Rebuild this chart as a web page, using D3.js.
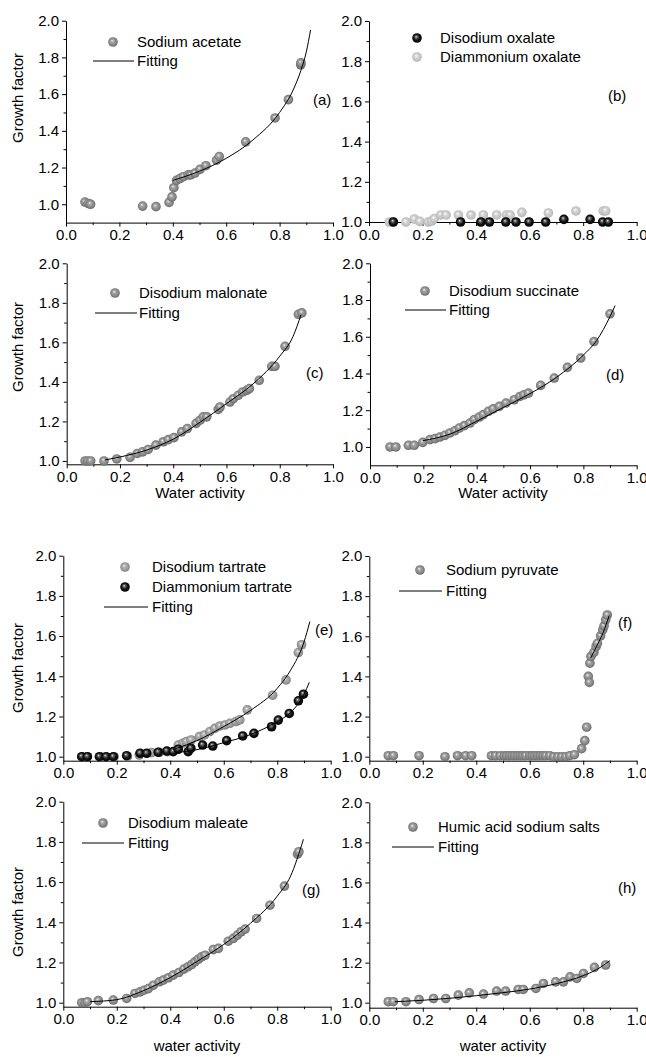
<!DOCTYPE html>
<html><head><meta charset="utf-8">
<script src="https://cdn.jsdelivr.net/npm/d3@7"></script>
<style>
body{margin:0;background:#fff}
svg text{font-family:"Liberation Sans",Arial,Helvetica,sans-serif;fill:#000}
</style>
</head><body>
<svg id="chart" width="646" height="1057"></svg>
<script>
// ---------- DATA ----------
const xTicks = [0.0, 0.2, 0.4, 0.6, 0.8, 1.0];
const xMinorTicks = [0.1, 0.3, 0.5, 0.7, 0.9];
const yTicks = [1.0, 1.2, 1.4, 1.6, 1.8, 2.0];
const yMinorTicks = [1.1, 1.3, 1.5, 1.7, 1.9];

// (a) Sodium acetate
const acetateAw = [0.071,0.084,0.092,0.287,0.337,0.386,0.397,0.404,0.414,0.427,0.44,0.458,0.467,0.483,0.502,0.524,0.564,0.574,0.673,0.783,0.833,0.879,0.88];
const acetateGf = [1.012,1.004,1.0,0.99,0.987,1.01,1.04,1.09,1.13,1.14,1.15,1.16,1.16,1.17,1.19,1.21,1.24,1.26,1.34,1.47,1.57,1.76,1.77];
const acetateFitAw = [0.40,0.5,0.6,0.7,0.8,0.85,0.88,0.9,0.916];
const acetateFitGf = [1.13,1.18,1.25,1.35,1.50,1.62,1.73,1.83,1.95];

// (b) Oxalates
const diammOxalateAw = [0.076,0.088,0.138,0.169,0.19,0.222,0.234,0.244,0.269,0.288,0.334,0.381,0.427,0.477,0.514,0.527,0.571,0.67,0.773,0.875,0.884];
const diammOxalateGf = [1.0,1.0,1.0,1.015,1.003,1.0,1.005,1.017,1.035,1.035,1.035,1.035,1.035,1.035,1.035,1.035,1.048,1.045,1.055,1.055,1.055];
const disodOxalateAw = [0.091,0.342,0.418,0.45,0.511,0.549,0.598,0.66,0.728,0.826,0.873,0.894];
const disodOxalateGf = [1.0,1.0,1.0,1.0,1.0,1.0,1.0,1.0,1.013,1.013,1.0,1.0];

// (c) Disodium malonate
const malonateAw = [0.069,0.079,0.09,0.14,0.188,0.238,0.265,0.285,0.306,0.335,0.363,0.382,0.403,0.432,0.453,0.486,0.501,0.513,0.526,0.569,0.576,0.613,0.626,0.644,0.661,0.676,0.686,0.723,0.77,0.782,0.82,0.87,0.883];
const malonateGf = [1.0,1.0,1.0,1.0,1.01,1.018,1.038,1.046,1.058,1.08,1.097,1.108,1.118,1.147,1.164,1.19,1.206,1.223,1.223,1.261,1.273,1.298,1.315,1.332,1.349,1.357,1.366,1.408,1.479,1.479,1.58,1.742,1.749];
const malonateFitAw = [0.144,0.2,0.3,0.4,0.5,0.6,0.7,0.8,0.85,0.88];
const malonateFitGf = [1.005,1.02,1.055,1.11,1.195,1.29,1.39,1.53,1.63,1.74];

// (d) Disodium succinate
const succinateAw = [0.075,0.097,0.144,0.166,0.198,0.225,0.244,0.262,0.281,0.3,0.319,0.335,0.354,0.375,0.391,0.41,0.425,0.444,0.462,0.485,0.51,0.541,0.562,0.577,0.594,0.64,0.691,0.74,0.79,0.84,0.9];
const succinateGf = [1.0,1.0,1.009,1.009,1.025,1.04,1.045,1.054,1.063,1.076,1.089,1.103,1.116,1.13,1.149,1.163,1.176,1.194,1.207,1.221,1.239,1.257,1.275,1.284,1.293,1.335,1.375,1.433,1.484,1.574,1.725];
const succinateFitAw = [0.198,0.3,0.4,0.5,0.6,0.7,0.8,0.85,0.9,0.919];
const succinateFitGf = [1.034,1.07,1.14,1.215,1.29,1.38,1.5,1.58,1.71,1.77];

// (e) Tartrates
const disodTartrateAw = [0.07,0.09,0.14,0.19,0.24,0.284,0.33,0.36,0.39,0.43,0.447,0.46,0.478,0.509,0.528,0.548,0.567,0.586,0.605,0.623,0.646,0.66,0.688,0.783,0.833,0.879,0.891];
const disodTartrateGf = [1.0,1.0,1.0,1.0,1.0,1.008,1.02,1.022,1.025,1.058,1.067,1.075,1.083,1.1,1.108,1.125,1.141,1.153,1.158,1.166,1.175,1.183,1.233,1.306,1.382,1.518,1.557];
const diammTartrateAw = [0.069,0.09,0.135,0.16,0.187,0.237,0.287,0.312,0.355,0.387,0.411,0.43,0.467,0.477,0.521,0.559,0.611,0.671,0.713,0.779,0.804,0.845,0.879,0.898];
const diammTartrateGf = [1.0,1.0,1.0,1.0,1.0,1.005,1.017,1.017,1.022,1.028,1.025,1.037,1.025,1.042,1.058,1.053,1.08,1.103,1.116,1.149,1.182,1.215,1.278,1.311];
const disodTartrateFitAw = [0.42,0.5,0.6,0.7,0.8,0.85,0.9,0.922];
const disodTartrateFitGf = [1.04,1.08,1.15,1.23,1.34,1.43,1.57,1.672];
const diammTartrateFitAw = [0.42,0.5,0.6,0.7,0.8,0.85,0.9,0.92];
const diammTartrateFitGf = [1.02,1.035,1.07,1.11,1.175,1.22,1.31,1.37];

// (f) Sodium pyruvate
const pyruvateAw = [0.071,0.09,0.186,0.283,0.33,0.36,0.383,0.457,0.472,0.49,0.505,0.515,0.525,0.535,0.545,0.555,0.565,0.575,0.585,0.6,0.61,0.62,0.63,0.64,0.65,0.66,0.675,0.69,0.705,0.72,0.735,0.75,0.767,0.794,0.806,0.813,0.819,0.823,0.825,0.829,0.84,0.848,0.853,0.865,0.873,0.878,0.884,0.89];
const pyruvateGf = [1.005,1.005,1.005,1.0,1.005,1.005,1.005,1.005,1.005,1.005,1.005,1.005,1.005,1.005,1.005,1.005,1.005,1.005,1.005,1.005,1.005,1.005,1.005,1.005,1.005,1.005,1.005,1.0,1.0,1.0,1.0,1.005,1.01,1.04,1.08,1.147,1.4,1.37,1.466,1.5,1.52,1.548,1.565,1.602,1.632,1.652,1.682,1.706];
const pyruvateFitAw = [0.828,0.85,0.875,0.897];
const pyruvateFitGf = [1.492,1.55,1.62,1.703];

// (g) Disodium maleate
const maleateAw = [0.069,0.081,0.09,0.131,0.187,0.237,0.268,0.287,0.302,0.318,0.337,0.359,0.374,0.393,0.411,0.432,0.451,0.467,0.48,0.492,0.505,0.517,0.53,0.561,0.58,0.617,0.636,0.651,0.665,0.68,0.723,0.773,0.827,0.876,0.881];
const maleateGf = [1.0,1.0,1.005,1.01,1.013,1.021,1.046,1.054,1.062,1.07,1.087,1.104,1.112,1.124,1.137,1.15,1.167,1.179,1.19,1.203,1.216,1.228,1.236,1.264,1.27,1.306,1.32,1.336,1.353,1.366,1.419,1.485,1.58,1.739,1.751];
const maleateFitAw = [0.1,0.2,0.3,0.4,0.5,0.6,0.7,0.8,0.85,0.898];
const maleateFitGf = [1.005,1.015,1.06,1.125,1.205,1.29,1.395,1.53,1.63,1.813];

// (h) Humic acid sodium salts
const humicAw = [0.071,0.09,0.137,0.186,0.24,0.286,0.333,0.374,0.427,0.476,0.51,0.557,0.576,0.623,0.651,0.697,0.726,0.751,0.776,0.801,0.842,0.884];
const humicGf = [1.005,1.005,1.005,1.016,1.021,1.021,1.038,1.049,1.043,1.058,1.058,1.066,1.066,1.071,1.096,1.104,1.104,1.129,1.121,1.146,1.176,1.188];
const humicFitAw = [0.096,0.2,0.3,0.4,0.5,0.6,0.7,0.8,0.85,0.9];
const humicFitGf = [1.005,1.012,1.022,1.035,1.05,1.068,1.095,1.135,1.165,1.21];

// ---------- DRAWING ----------
const svg = d3.select("#chart");
const defs = svg.append("defs");
function sphere(id, stops){
  const g = defs.append("radialGradient").attr("id", id)
    .attr("cx","50%").attr("cy","50%").attr("r","55%").attr("fx","40%").attr("fy","35%");
  stops.forEach(s => g.append("stop").attr("offset", s[0]).attr("stop-color", s[1]));
}
sphere("gGray", [["0%","#f2f2f2"],["30%","#a4a4a4"],["70%","#858585"],["100%","#5e5e5e"]]);
sphere("gLight", [["0%","#ffffff"],["35%","#d4d4d4"],["75%","#c2c2c2"],["100%","#a6a6a6"]]);
sphere("gMid", [["0%","#f5f5f5"],["30%","#b0b0b0"],["70%","#989898"],["100%","#707070"]]);
sphere("gBlack", [["0%","#e6e6e6"],["22%","#6a6a6a"],["55%","#141414"],["100%","#000000"]]);

const zip = (xs, ys) => xs.map((x, i) => ({x, y: ys[i]}));
const R = 4.8;

function panel(cfg){
  const x = d3.scaleLinear().domain([0, 1]).range([cfg.left, cfg.right]);
  const y = d3.scaleLinear().domain([cfg.ymin, 2.0]).range([cfg.bottom, cfg.top]);
  const g = svg.append("g");
  const fmt = d3.format(".1f");

  // axes
  const xa = g.append("g").attr("transform", `translate(0,${cfg.bottom})`)
    .call(d3.axisBottom(x).tickValues(xTicks).tickFormat(fmt).tickSize(4).tickSizeOuter(0).tickPadding(3));
  g.append("g").attr("transform", `translate(0,${cfg.bottom})`)
    .call(d3.axisBottom(x).tickValues(xMinorTicks).tickFormat("").tickSize(2.5).tickSizeOuter(0))
    .select(".domain").remove();
  const ya = g.append("g").attr("transform", `translate(${cfg.left},0)`)
    .call(d3.axisLeft(y).tickValues(yTicks).tickFormat(fmt).tickSize(4).tickSizeOuter(0).tickPadding(3));
  g.append("g").attr("transform", `translate(${cfg.left},0)`)
    .call(d3.axisLeft(y).tickValues(yMinorTicks).tickFormat("").tickSize(2.5).tickSizeOuter(0))
    .select(".domain").remove();
  g.selectAll(".tick text").attr("font-size", 15).attr("font-family", '"Liberation Sans",Arial,sans-serif');
  g.selectAll(".domain, .tick line").attr("stroke", "#000").attr("stroke-width", 1);

  // series
  cfg.series.forEach(s => {
    g.append("g").selectAll("circle").data(zip(s.xs, s.ys)).join("circle")
      .attr("cx", d => x(d.x)).attr("cy", d => y(d.y)).attr("r", R)
      .attr("fill", `url(#${s.grad})`);
  });
  // fits
  const line = d3.line().x(d => x(d.x)).y(d => y(d.y)).curve(d3.curveMonotoneX);
  (cfg.fits || []).forEach(f => {
    g.append("path").datum(zip(f.xs, f.ys)).attr("d", line)
      .attr("fill", "none").attr("stroke", "#000").attr("stroke-width", 1);
  });

  // legend
  cfg.legend.forEach(l => {
    if (l.type === "marker") {
      g.append("circle").attr("cx", l.mx).attr("cy", l.y).attr("r", R).attr("fill", `url(#${l.grad})`);
    } else {
      g.append("line").attr("x1", l.lx1).attr("x2", l.lx2).attr("y1", l.y).attr("y2", l.y)
        .attr("stroke", "#000").attr("stroke-width", 1);
    }
    g.append("text").attr("x", l.tx).attr("y", l.y).attr("dy", "0.35em")
      .attr("font-size", 15).text(l.label);
  });

  // panel tag
  g.append("text").attr("x", cfg.tag[0]).attr("y", cfg.tag[1]).attr("dy", "0.35em")
    .attr("font-size", 15).text(cfg.tagText);

  if (cfg.ytitle) {
    g.append("text").attr("transform", `translate(${cfg.ytitle[0]},${cfg.ytitle[1]}) rotate(-90)`)
      .attr("text-anchor", "middle").attr("dy", "0.35em").attr("font-size", 15).text("Growth factor");
  }
  if (cfg.xtitle) {
    g.append("text").attr("x", cfg.xtitle[0]).attr("y", cfg.xtitle[1]).attr("dy", "0.35em")
      .attr("text-anchor", "middle").attr("font-size", 15).text(cfg.xtitleText);
  }
}

panel({left:66, right:333, top:20.7, bottom:222.6, ymin:0.9, tagText:"(a)", tag:[313,100], ytitle:[18,98],
  series:[{xs:acetateAw, ys:acetateGf, grad:"gGray"}],
  fits:[{xs:acetateFitAw, ys:acetateFitGf}],
  legend:[{type:"marker", mx:113, y:42, tx:137, grad:"gGray", label:"Sodium acetate"},
          {type:"line", lx1:93, lx2:134, y:61, tx:137, label:"Fitting"}]});

panel({left:369, right:636.7, top:21, bottom:222, ymin:1.0, tagText:"(b)", tag:[608,96],
  series:[{xs:diammOxalateAw, ys:diammOxalateGf, grad:"gLight"},{xs:disodOxalateAw, ys:disodOxalateGf, grad:"gBlack"}],
  legend:[{type:"marker", mx:417, y:38, tx:440, grad:"gBlack", label:"Disodium oxalate"},
          {type:"marker", mx:417, y:57, tx:440, grad:"gLight", label:"Diammonium oxalate"}]});

panel({left:66.7, right:333, top:263.3, bottom:464.3, ymin:0.983, tagText:"(c)", tag:[306,373], ytitle:[18,347],
  xtitle:[200,493], xtitleText:"Water activity",
  series:[{xs:malonateAw, ys:malonateGf, grad:"gGray"}],
  fits:[{xs:malonateFitAw, ys:malonateFitGf}],
  legend:[{type:"marker", mx:115, y:293, tx:139, grad:"gGray", label:"Disodium malonate"},
          {type:"line", lx1:95, lx2:137, y:313, tx:139, label:"Fitting"}]});

panel({left:370, right:636.7, top:263.3, bottom:465.3, ymin:0.9, tagText:"(d)", tag:[606,375],
  xtitle:[503,493], xtitleText:"Water activity",
  series:[{xs:succinateAw, ys:succinateGf, grad:"gGray"}],
  fits:[{xs:succinateFitAw, ys:succinateFitGf}],
  legend:[{type:"marker", mx:425, y:291, tx:449, grad:"gGray", label:"Disodium succinate"},
          {type:"line", lx1:405, lx2:446, y:310, tx:449, label:"Fitting"}]});

panel({left:63.3, right:330.7, top:555.7, bottom:760.7, ymin:0.98, tagText:"(e)", tag:[315,630], ytitle:[18,668],
  series:[{xs:disodTartrateAw, ys:disodTartrateGf, grad:"gMid"},{xs:diammTartrateAw, ys:diammTartrateGf, grad:"gBlack"}],
  fits:[{xs:disodTartrateFitAw, ys:disodTartrateFitGf},{xs:diammTartrateFitAw, ys:diammTartrateFitGf}],
  legend:[{type:"marker", mx:125, y:567, tx:152, grad:"gMid", label:"Disodium tartrate"},
          {type:"marker", mx:125, y:587, tx:152, grad:"gBlack", label:"Diammonium tartrate"},
          {type:"line", lx1:104, lx2:148, y:607, tx:152, label:"Fitting"}]});

panel({left:369.3, right:636.7, top:556, bottom:760.7, ymin:0.98, tagText:"(f)", tag:[618,623],
  series:[{xs:pyruvateAw, ys:pyruvateGf, grad:"gGray"}],
  fits:[{xs:pyruvateFitAw, ys:pyruvateFitGf}],
  legend:[{type:"marker", mx:420, y:570, tx:446, grad:"gGray", label:"Sodium pyruvate"},
          {type:"line", lx1:399, lx2:442, y:591, tx:446, label:"Fitting"}]});

panel({left:63.3, right:330.7, top:801.7, bottom:1006.7, ymin:0.98, tagText:"(g)", tag:[302,890], ytitle:[18,912],
  xtitle:[197,1046], xtitleText:"water activity",
  series:[{xs:maleateAw, ys:maleateGf, grad:"gGray"}],
  fits:[{xs:maleateFitAw, ys:maleateFitGf}],
  legend:[{type:"marker", mx:103, y:823, tx:128, grad:"gGray", label:"Disodium maleate"},
          {type:"line", lx1:82, lx2:124, y:843, tx:128, label:"Fitting"}]});

panel({left:369.3, right:636.7, top:802.3, bottom:1007.7, ymin:0.975, tagText:"(h)", tag:[618,888],
  xtitle:[503,1046], xtitleText:"water activity",
  series:[{xs:humicAw, ys:humicGf, grad:"gGray"}],
  fits:[{xs:humicFitAw, ys:humicFitGf}],
  legend:[{type:"marker", mx:413, y:827, tx:438, grad:"gGray", label:"Humic acid sodium salts"},
          {type:"line", lx1:392, lx2:434, y:847, tx:438, label:"Fitting"}]});
</script>
</body></html>
